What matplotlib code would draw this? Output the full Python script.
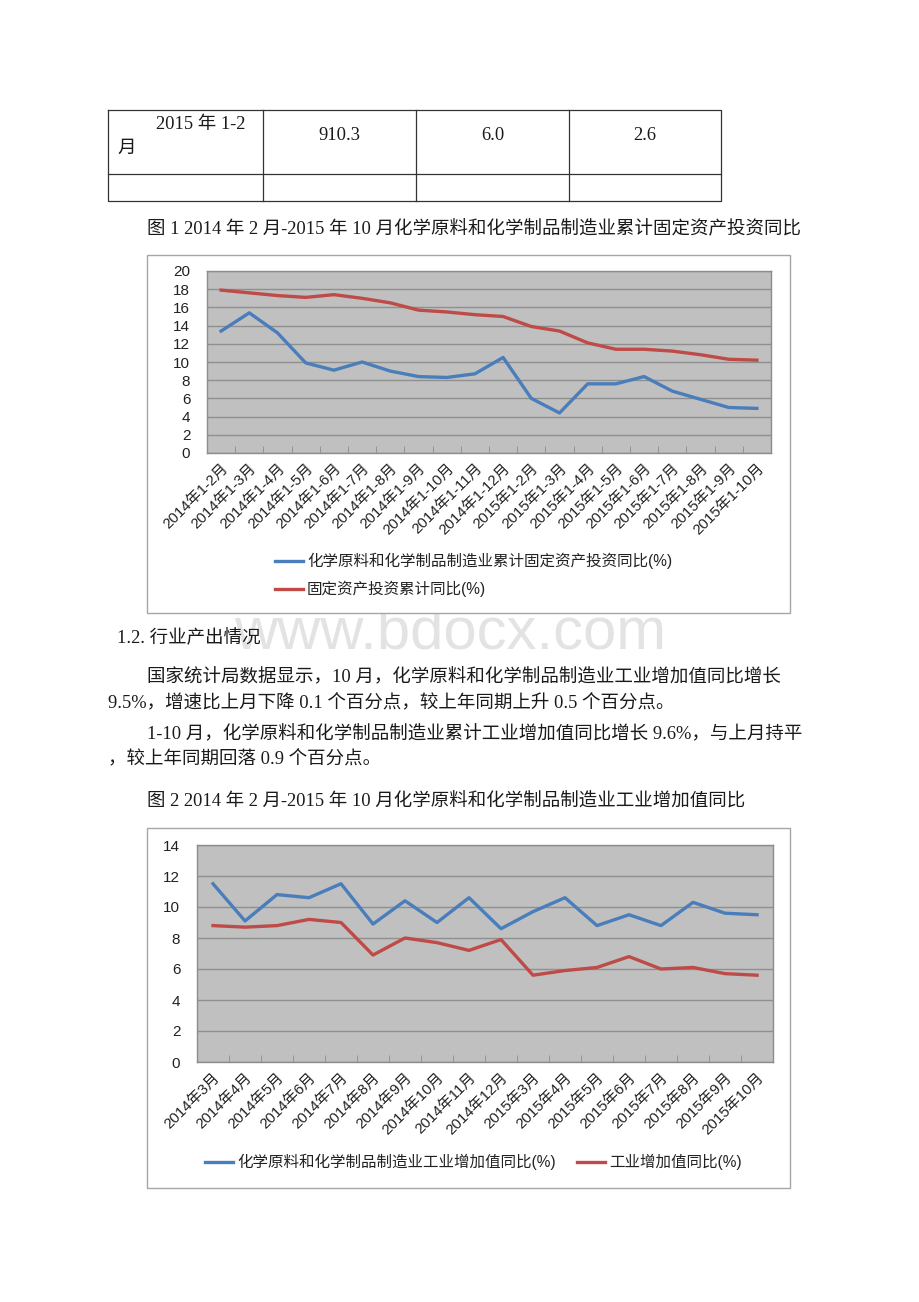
import matplotlib
matplotlib.use('Agg')
import matplotlib.pyplot as plt
from matplotlib.patches import Rectangle
from matplotlib.ticker import FixedLocator

W, H = 920, 1302
SERIF = ['Liberation Serif', 'Noto Sans CJK SC']
SANS = ['Liberation Sans', 'Noto Sans CJK SC']
plt.rcParams['font.family'] = SERIF

# ---------------- data ----------------
table_row = ['2015 年 1-2', '910.3', '6.0', '2.6']

fig1_cats = ['2014年1-2月', '2014年1-3月', '2014年1-4月', '2014年1-5月', '2014年1-6月',
             '2014年1-7月', '2014年1-8月', '2014年1-9月', '2014年1-10月', '2014年1-11月',
             '2014年1-12月', '2015年1-2月', '2015年1-3月', '2015年1-4月', '2015年1-5月',
             '2015年1-6月', '2015年1-7月', '2015年1-8月', '2015年1-9月', '2015年1-10月']
fig1_chem = [13.4, 15.4, 13.2, 9.9, 9.1, 10.0, 9.0, 8.4, 8.3, 8.7,
             10.5, 6.0, 4.4, 7.6, 7.6, 8.4, 6.8, 5.9, 5.0, 4.9]
fig1_total = [17.9, 17.6, 17.3, 17.1, 17.4, 17.0, 16.5, 15.7, 15.5, 15.2,
              15.0, 13.9, 13.4, 12.1, 11.4, 11.4, 11.2, 10.8, 10.3, 10.2]
fig1_labels = ['化学原料和化学制品制造业累计固定资产投资同比(%)', '固定资产投资累计同比(%)']

fig2_cats = ['2014年3月', '2014年4月', '2014年5月', '2014年6月', '2014年7月', '2014年8月',
             '2014年9月', '2014年10月', '2014年11月', '2014年12月', '2015年3月', '2015年4月',
             '2015年5月', '2015年6月', '2015年7月', '2015年8月', '2015年9月', '2015年10月']
fig2_chem = [11.5, 9.1, 10.8, 10.6, 11.5, 8.9, 10.4, 9.0, 10.6, 8.6,
             9.7, 10.6, 8.8, 9.5, 8.8, 10.3, 9.6, 9.5]
fig2_total = [8.8, 8.7, 8.8, 9.2, 9.0, 6.9, 8.0, 7.7, 7.2, 7.9,
              5.6, 5.9, 6.1, 6.8, 6.0, 6.1, 5.7, 5.6]
fig2_labels = ['化学原料和化学制品制造业工业增加值同比(%)', '工业增加值同比(%)']

caption1 = '图 1 2014 年 2 月-2015 年 10 月化学原料和化学制品制造业累计固定资产投资同比'
caption2 = '图 2 2014 年 2 月-2015 年 10 月化学原料和化学制品制造业工业增加值同比'
heading = '1.2. 行业产出情况'
para1 = ['国家统计局数据显示，10 月，化学原料和化学制品制造业工业增加值同比增长',
         '9.5%，增速比上月下降 0.1 个百分点，较上年同期上升 0.5 个百分点。']
para2 = ['1-10 月，化学原料和化学制品制造业累计工业增加值同比增长 9.6%，与上月持平',
         '，较上年同期回落 0.9 个百分点。']

BLUE = '#4A7EBB'
RED = '#BE4B48'
TXT = '#1a1a1a'
BODY_FS = 13.3

fig = plt.figure(figsize=(W / 100, H / 100), dpi=100)
fig.patch.set_facecolor('white')

bg = fig.add_axes([0, 0, 1, 1], zorder=0)
bg.set_xlim(0, W)
bg.set_ylim(H, 0)
bg.axis('off')

# watermark
bg.text(450, 633, 'www.bdocx.com', fontsize=43, family=['Liberation Sans'],
        color='#E3E3E3', ha='center', va='center', zorder=0)

# ---------------- table ----------------
tx0, tx1 = 108, 721
ty0, ty1, tymid = 110, 201, 174
cols = [263, 416, 569]
lc = '#333333'
bg.plot([tx0, tx1, tx1, tx0, tx0], [ty0, ty0, ty1, ty1, ty0], color=lc, lw=0.9)
bg.plot([tx0, tx1], [tymid, tymid], color=lc, lw=0.9)
for c in cols:
    bg.plot([c, c], [ty0, ty1], color=lc, lw=0.9)
bg.text(156, 124, table_row[0], fontsize=BODY_FS, ha='left', va='center', color=TXT)
bg.text(117, 148, '月', fontsize=BODY_FS, ha='left', va='center', color=TXT)
edges = [tx0] + cols + [tx1]
for i in range(1, 4):
    bg.text((edges[i] + edges[i + 1]) / 2, 135, table_row[i], fontsize=BODY_FS,
            ha='center', va='center', color=TXT)

# ---------------- body text ----------------
bg.text(147, 229, caption1, fontsize=BODY_FS, ha='left', va='center', color=TXT)
bg.text(117, 638, heading, fontsize=BODY_FS, ha='left', va='center', color=TXT)
bg.text(147, 678, para1[0], fontsize=BODY_FS, ha='left', va='center', color=TXT)
bg.text(108, 703, para1[1], fontsize=BODY_FS, ha='left', va='center', color=TXT)
bg.text(147, 735, para2[0], fontsize=BODY_FS, ha='left', va='center', color=TXT)
bg.text(108, 760, para2[1], fontsize=BODY_FS, ha='left', va='center', color=TXT)
bg.text(147, 802, caption2, fontsize=BODY_FS, ha='left', va='center', color=TXT)

# chart frames
for (x0, y0, x1, y1) in [(147, 255, 790, 613), (147, 828, 790, 1188)]:
    bg.add_patch(Rectangle((x0, y0), x1 - x0, y1 - y0, fill=True, facecolor='white',
                           edgecolor='#A6A6A6', lw=1.0, zorder=1))


def px_axes(l, t, r, b):
    return fig.add_axes([l / W, 1 - b / H, (r - l) / W, (b - t) / H], zorder=2)


def style_chart(ax, cats, ymax):
    n = len(cats)
    ax.set_facecolor('#C0C0C0')
    ax.set_xlim(-0.5, n - 0.5)
    ax.set_ylim(0, ymax)
    ax.set_yticks(range(0, ymax + 1, 2))
    ax.yaxis.grid(True, color='#8F8F8F', lw=1.0)
    ax.set_axisbelow(True)
    for s in ax.spines.values():
        s.set_color('#8C8C8C')
        s.set_linewidth(1.0)
    ax.set_xticks(range(n))
    ax.set_xticklabels(cats, rotation=45, ha='right', va='top', rotation_mode='anchor',
                       fontsize=10.8, family=SANS, color='#222222')
    ax.xaxis.set_minor_locator(FixedLocator([i + 0.5 for i in range(n - 1)]))
    ax.tick_params(axis='x', which='major', length=0, pad=6)
    ax.tick_params(axis='x', which='minor', direction='in', length=5, color='#8C8C8C')
    ax.tick_params(axis='y', length=0, pad=12, labelsize=11, labelcolor='#222222')
    for t in ax.get_yticklabels():
        t.set_family(SANS)


# ---------------- chart 1 ----------------
ax1 = px_axes(207, 271, 771, 453)
x1 = list(range(len(fig1_cats)))
l1a, = ax1.plot(x1, fig1_chem, color=BLUE, lw=2.4, label=fig1_labels[0])
l1b, = ax1.plot(x1, fig1_total, color=RED, lw=2.4, label=fig1_labels[1])
style_chart(ax1, fig1_cats, 20)
fig.legend(handles=[l1a, l1b], loc='upper left', bbox_to_anchor=(275 / W, 1 - 553 / H),
           bbox_transform=fig.transFigure, frameon=False, ncol=1,
           prop={'family': SANS, 'size': 11.2}, handlelength=1.8, handletextpad=0.25,
           borderpad=0, borderaxespad=0, labelspacing=0.75, labelcolor='#222222')

# ---------------- chart 2 ----------------
ax2 = px_axes(197, 845, 773, 1062)
x2 = list(range(len(fig2_cats)))
l2a, = ax2.plot(x2, fig2_chem, color=BLUE, lw=2.4, label=fig2_labels[0])
l2b, = ax2.plot(x2, fig2_total, color=RED, lw=2.4, label=fig2_labels[1])
style_chart(ax2, fig2_cats, 14)
fig.legend(handles=[l2a, l2b], loc='upper left', bbox_to_anchor=(205 / W, 1 - 1154 / H),
           bbox_transform=fig.transFigure, frameon=False, ncol=2,
           prop={'family': SANS, 'size': 11.2}, handlelength=1.8, handletextpad=0.25,
           borderpad=0, borderaxespad=0, columnspacing=1.4, labelcolor='#222222')

fig.savefig('out.png', dpi=100, facecolor='white')
